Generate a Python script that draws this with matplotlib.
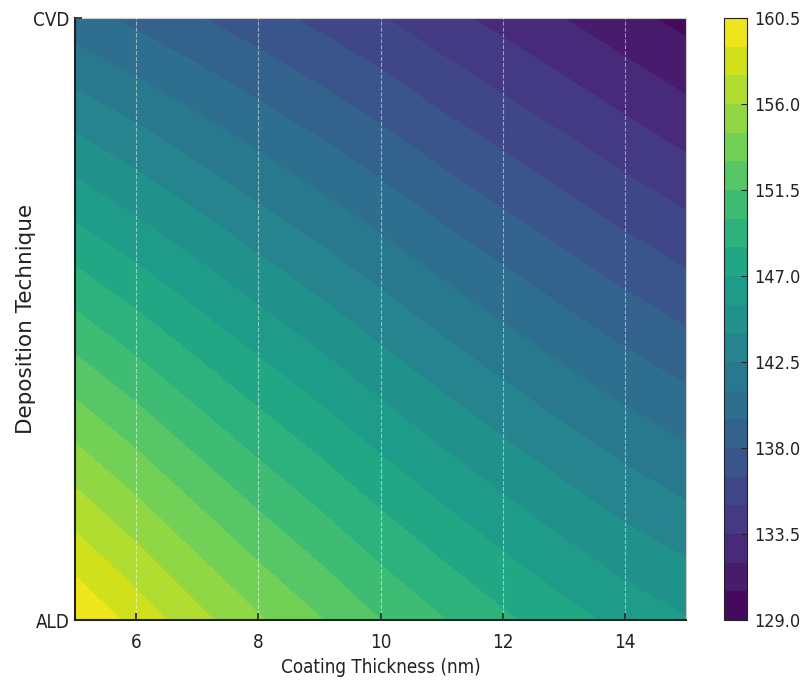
import numpy as np
import matplotlib
matplotlib.use("Agg")
import matplotlib.pyplot as plt

# Data
thickness = [5, 6, 7, 8, 9, 10, 11, 12, 13, 14, 15]
techniques = ["ALD", "CVD"]
ald_values = [160.5, 158.5, 156.5, 154.7, 153.1, 151.5, 150.1, 148.8, 147.6, 146.5, 145.6]
cvd_values = [140.1, 139.1, 138.1, 137.1, 136.1, 135.1, 134.0, 133.0, 132.0, 131.0, 130.0]
cbar_ticks = [129.0, 133.5, 138.0, 142.5, 147.0, 151.5, 156.0, 160.5]
x_ticks = [6, 8, 10, 12, 14]

Z = np.array([ald_values, cvd_values])
X, Y = np.meshgrid(np.array(thickness, dtype=float), np.arange(len(techniques)))
levels = np.linspace(min(cbar_ticks), max(cbar_ticks), 22)

fig = plt.figure(figsize=(8.02, 6.84), dpi=100)
ax = fig.add_axes([75 / 802, 64 / 684, 611 / 802, 602 / 684])
cax = fig.add_axes([724 / 802, 64 / 684, 23 / 802, 602 / 684])

cs = ax.contourf(X, Y, Z, levels=levels, cmap="viridis")
ax.set_xlim(5, 15)
ax.set_ylim(0, 1)
ax.set_xticks(x_ticks)
ax.set_yticks([0, 1])
ax.set_yticklabels(techniques)
ax.grid(True, axis="x", color="white", linestyle="--", linewidth=0.8, alpha=0.5)
ax.set_axisbelow(False)
ax.tick_params(direction="in", length=5, width=1.2, colors="#222222", labelsize=13.5)
ax.tick_params(axis="x", pad=9)
ax.tick_params(axis="y", pad=4)
for lab in ax.get_xticklabels() + ax.get_yticklabels():
    lab.set_fontstretch("condensed")
ax.set_xlabel("Coating Thickness (nm)", fontsize=13.5, color="#222222",
              labelpad=5, fontstretch="condensed")
ax.set_ylabel("Deposition Technique", fontsize=15.5, color="#222222", labelpad=-2)
for s in ["top", "right"]:
    ax.spines[s].set_color("#cccccc")
    ax.spines[s].set_linewidth(0.8)
for s in ["left", "bottom"]:
    ax.spines[s].set_color("#222222")
    ax.spines[s].set_linewidth(1.5)

cb = fig.colorbar(cs, cax=cax, ticks=cbar_ticks)
cb.ax.set_yticklabels([f"{t:.1f}" for t in cbar_ticks])
cb.ax.tick_params(labelsize=13, length=4, direction="in", colors="#222222", pad=5)
for lab in cb.ax.get_yticklabels():
    lab.set_fontstretch("condensed")
cb.outline.set_edgecolor("#222222")

fig.savefig("out.png", dpi=100)
